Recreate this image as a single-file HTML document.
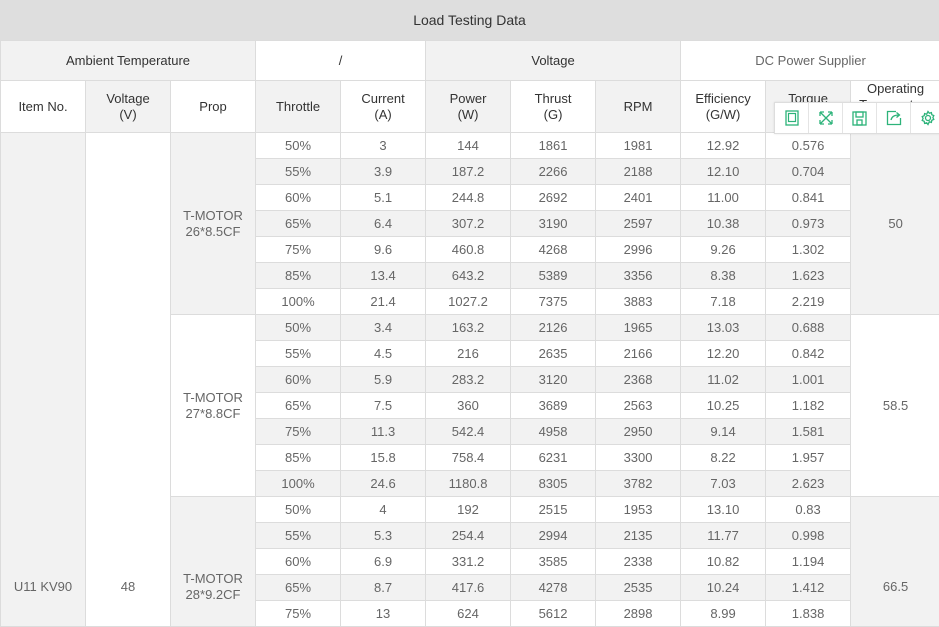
<!DOCTYPE html>
<html><head><meta charset="utf-8"><style>
html,body{margin:0;padding:0;width:939px;height:626px;overflow:hidden;background:#fff;font-family:"Liberation Sans",Arial,sans-serif;}
.title{position:absolute;left:0;top:0;width:939px;height:40px;background:#dedede;color:#333;font-size:14px;line-height:40px;text-align:center;}
table{position:absolute;left:0;top:40px;border-collapse:collapse;table-layout:fixed;width:940px;font-size:13px;color:#666;}
td{border:1px solid #dcdcdc;text-align:center;padding:0;overflow:hidden;line-height:16px;}
.h td{color:#333;}
.g{background:#f2f2f2;}
tr.r{height:26px;}
tr.r:nth-child(even) td.a{background:#f2f2f2;}
.bt{vertical-align:bottom;}
.tb{position:absolute;left:774px;top:102px;width:170px;height:30px;background:#fff;border:1px solid #ddd;box-shadow:0 0 2px rgba(0,0,0,.1);display:flex;}
.tb div{width:33px;height:30px;border-right:1px solid #e4e4e4;display:flex;align-items:center;justify-content:center;}
</style></head><body>
<div class="title">Load Testing Data</div>
<table>
<colgroup><col style="width:85px"><col style="width:85px"><col style="width:85px"><col style="width:85px"><col style="width:85px"><col style="width:85px"><col style="width:85px"><col style="width:85px"><col style="width:85px"><col style="width:85px"><col style="width:90px"></colgroup>
<tr class="h" style="height:40px"><td colspan="3" class="g">Ambient Temperature</td><td colspan="2">/</td><td colspan="3" class="g">Voltage</td><td colspan="3" style="color:#666">DC Power Supplier</td></tr>
<tr class="h" style="height:52px"><td>Item No.</td><td class="g">Voltage<br>(V)</td><td>Prop</td><td class="g">Throttle</td><td>Current<br>(A)</td><td class="g">Power<br>(W)</td><td>Thrust<br>(G)</td><td class="g">RPM</td><td>Efficiency<br>(G/W)</td><td class="g">Torque<br>(N*m)</td><td style="vertical-align:top;padding-top:0">Operating<br>Temperature<br>(℃)</td></tr>
<tr class="r"><td rowspan="19" class="g bt" style="padding-bottom:31px">U11 KV90</td><td rowspan="19" class="bt" style="padding-bottom:31px">48</td><td rowspan="7" class="g">T-MOTOR<br>26*8.5CF</td><td class="a">50%</td><td class="a">3</td><td class="a">144</td><td class="a">1861</td><td class="a">1981</td><td class="a">12.92</td><td class="a">0.576</td><td rowspan="7" class="g">50</td></tr>
<tr class="r"><td class="a">55%</td><td class="a">3.9</td><td class="a">187.2</td><td class="a">2266</td><td class="a">2188</td><td class="a">12.10</td><td class="a">0.704</td></tr>
<tr class="r"><td class="a">60%</td><td class="a">5.1</td><td class="a">244.8</td><td class="a">2692</td><td class="a">2401</td><td class="a">11.00</td><td class="a">0.841</td></tr>
<tr class="r"><td class="a">65%</td><td class="a">6.4</td><td class="a">307.2</td><td class="a">3190</td><td class="a">2597</td><td class="a">10.38</td><td class="a">0.973</td></tr>
<tr class="r"><td class="a">75%</td><td class="a">9.6</td><td class="a">460.8</td><td class="a">4268</td><td class="a">2996</td><td class="a">9.26</td><td class="a">1.302</td></tr>
<tr class="r"><td class="a">85%</td><td class="a">13.4</td><td class="a">643.2</td><td class="a">5389</td><td class="a">3356</td><td class="a">8.38</td><td class="a">1.623</td></tr>
<tr class="r"><td class="a">100%</td><td class="a">21.4</td><td class="a">1027.2</td><td class="a">7375</td><td class="a">3883</td><td class="a">7.18</td><td class="a">2.219</td></tr>
<tr class="r"><td rowspan="7">T-MOTOR<br>27*8.8CF</td><td class="a">50%</td><td class="a">3.4</td><td class="a">163.2</td><td class="a">2126</td><td class="a">1965</td><td class="a">13.03</td><td class="a">0.688</td><td rowspan="7">58.5</td></tr>
<tr class="r"><td class="a">55%</td><td class="a">4.5</td><td class="a">216</td><td class="a">2635</td><td class="a">2166</td><td class="a">12.20</td><td class="a">0.842</td></tr>
<tr class="r"><td class="a">60%</td><td class="a">5.9</td><td class="a">283.2</td><td class="a">3120</td><td class="a">2368</td><td class="a">11.02</td><td class="a">1.001</td></tr>
<tr class="r"><td class="a">65%</td><td class="a">7.5</td><td class="a">360</td><td class="a">3689</td><td class="a">2563</td><td class="a">10.25</td><td class="a">1.182</td></tr>
<tr class="r"><td class="a">75%</td><td class="a">11.3</td><td class="a">542.4</td><td class="a">4958</td><td class="a">2950</td><td class="a">9.14</td><td class="a">1.581</td></tr>
<tr class="r"><td class="a">85%</td><td class="a">15.8</td><td class="a">758.4</td><td class="a">6231</td><td class="a">3300</td><td class="a">8.22</td><td class="a">1.957</td></tr>
<tr class="r"><td class="a">100%</td><td class="a">24.6</td><td class="a">1180.8</td><td class="a">8305</td><td class="a">3782</td><td class="a">7.03</td><td class="a">2.623</td></tr>
<tr class="r"><td rowspan="5" class="g bt" style="padding-bottom:23px">T-MOTOR<br>28*9.2CF</td><td class="a">50%</td><td class="a">4</td><td class="a">192</td><td class="a">2515</td><td class="a">1953</td><td class="a">13.10</td><td class="a">0.83</td><td rowspan="5" class="g bt" style="padding-bottom:31px">66.5</td></tr>
<tr class="r"><td class="a">55%</td><td class="a">5.3</td><td class="a">254.4</td><td class="a">2994</td><td class="a">2135</td><td class="a">11.77</td><td class="a">0.998</td></tr>
<tr class="r"><td class="a">60%</td><td class="a">6.9</td><td class="a">331.2</td><td class="a">3585</td><td class="a">2338</td><td class="a">10.82</td><td class="a">1.194</td></tr>
<tr class="r"><td class="a">65%</td><td class="a">8.7</td><td class="a">417.6</td><td class="a">4278</td><td class="a">2535</td><td class="a">10.24</td><td class="a">1.412</td></tr>
<tr class="r"><td class="a">75%</td><td class="a">13</td><td class="a">624</td><td class="a">5612</td><td class="a">2898</td><td class="a">8.99</td><td class="a">1.838</td></tr>
</table>
<div class="tb">
<div><svg width="14" height="16" viewBox="0 0 14 16"><rect x="1" y="1" width="12" height="14" fill="none" stroke="#2db37a" stroke-width="1.3"/><rect x="3.5" y="3.5" width="7" height="8" fill="none" stroke="#2db37a" stroke-width="1.2"/></svg></div>
<div><svg width="16" height="16" viewBox="0 0 16 16" fill="none" stroke="#2db37a" stroke-width="1.3"><path d="M2 2L14 14M14 2L2 14M2 2h4M2 2v4M14 2h-4M14 2v4M2 14h4M2 14v-4M14 14h-4M14 14v-4"/></svg></div>
<div><svg width="15" height="15" viewBox="0 0 15 15" fill="none" stroke="#2db37a" stroke-width="1.3"><rect x="1" y="1" width="13" height="13"/><rect x="4" y="1" width="7" height="5"/><rect x="5" y="9" width="5" height="5"/></svg></div>
<div><svg width="16" height="16" viewBox="0 0 16 16" fill="none" stroke="#2db37a" stroke-width="1.3"><path d="M10 1.5H1.5V14.5H14.5V8"/><path d="M5 10Q6 5 13 5M10.5 2.5L13.5 5L10.5 7.5"/></svg></div>
<div style="border-right:none"><svg width="16" height="16" viewBox="0 0 16 16" fill="none" stroke="#2db37a" stroke-width="1.3"><circle cx="8" cy="8" r="2.5"/><path d="M8 1.5l1.3 1.7 2.1-.6.4 2.1 2 .9-.9 1.9.9 1.9-2 .9-.4 2.1-2.1-.6L8 14.5l-1.3-1.7-2.1.6-.4-2.1-2-.9.9-1.9-.9-1.9 2-.9.4-2.1 2.1.6z"/></svg></div>
</div>
</body></html>
